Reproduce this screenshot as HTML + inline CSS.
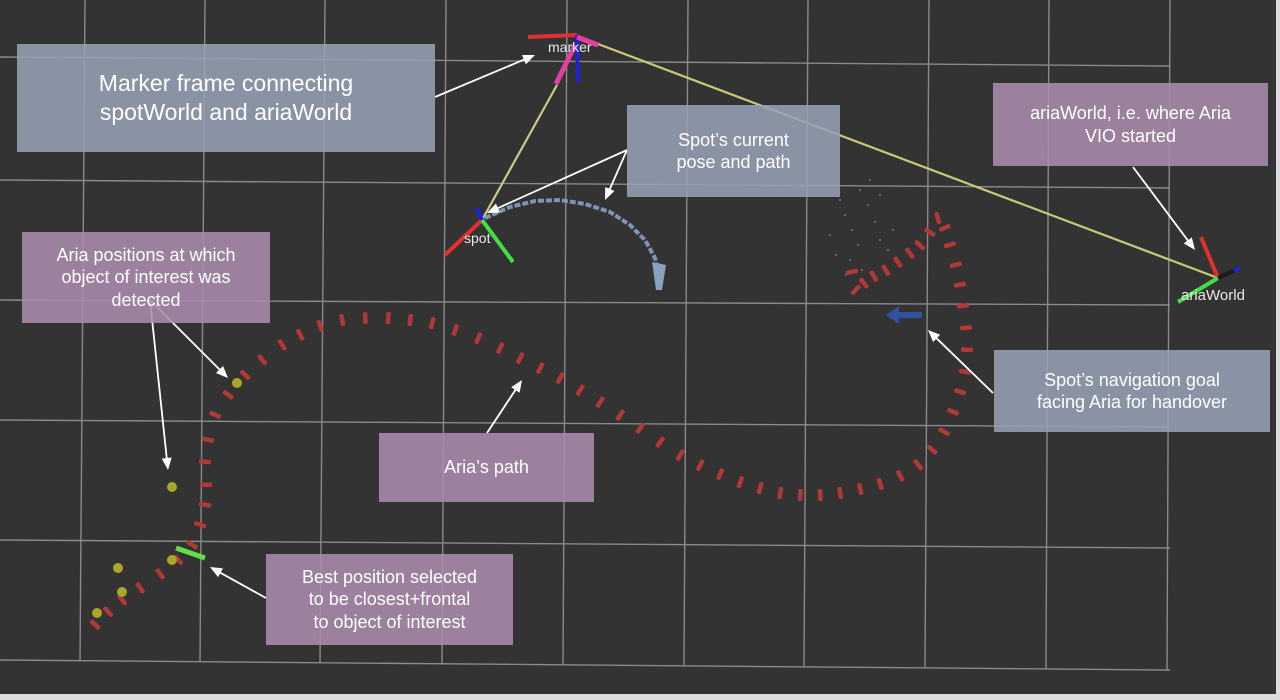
<!DOCTYPE html>
<html><head><meta charset="utf-8"><style>
html,body{margin:0;padding:0;background:#dcdcdc;}
#wrap{position:relative;width:1280px;height:700px;overflow:hidden;background:#dcdcdc;}
svg{position:absolute;left:0;top:0;}
.box{position:absolute;color:#fff;font-family:"Liberation Sans",sans-serif;text-align:center;display:flex;align-items:center;justify-content:center;line-height:1.25;}
.pur{background:rgba(170,140,172,0.88);}
.blu{background:rgba(150,160,180,0.88);}
</style></head><body>
<div id="wrap">
<svg id="scene" width="1280" height="700">
  <rect x="0" y="0" width="1276" height="694" fill="#333333"/>
  <g id="grid" stroke="#8a8a8a" stroke-width="1.4" fill="none"></g>
  <g id="cloud" fill="#777"></g>
  <g>
    <line x1="557" y1="85" x2="482" y2="220" stroke="#c9c98a" stroke-width="2.2"/>
    <line x1="598" y1="44" x2="1218" y2="278" stroke="#c9c97a" stroke-width="2.2"/>
  </g>
  <path id="spotPath" d="" stroke="#7f93b5" stroke-width="4" fill="none" stroke-dasharray="6 2"/>
  <polygon points="652,262 666,265 662,290 656,290" fill="#8aa0c0"/>
  <g id="ariaPath"></g>
  <g id="dets"></g>
  <line x1="176" y1="548" x2="205" y2="558" stroke="#5fe04a" stroke-width="5"/>
  <g>
    <line x1="528" y1="37" x2="577" y2="35" stroke="#e03030" stroke-width="4"/>
    <line x1="577" y1="35" x2="578" y2="82" stroke="#2020e0" stroke-width="4"/>
    <line x1="575" y1="45" x2="556" y2="84" stroke="#e040a0" stroke-width="5"/>
    <line x1="577" y1="37" x2="598" y2="45" stroke="#e040a0" stroke-width="5"/>
    <text x="548" y="52" fill="#e8e8e8" font-family="Liberation Sans, sans-serif" font-size="14">marker</text>
  </g>
  <g>
    <line x1="482" y1="220" x2="445" y2="255" stroke="#e03030" stroke-width="4"/>
    <line x1="482" y1="220" x2="513" y2="262" stroke="#40e040" stroke-width="4"/>
    <line x1="482" y1="220" x2="477" y2="208" stroke="#2020e0" stroke-width="4"/>
    <text x="464" y="243" fill="#e8e8e8" font-family="Liberation Sans, sans-serif" font-size="14">spot</text>
  </g>
  <g>
    <line x1="1218" y1="278" x2="1201" y2="237" stroke="#e03030" stroke-width="4"/>
    <line x1="1218" y1="278" x2="1178" y2="302" stroke="#40e040" stroke-width="4"/>
    <line x1="1218" y1="278" x2="1240" y2="268" stroke="#1a1a1a" stroke-width="4"/>
    <line x1="1234" y1="271" x2="1240" y2="268" stroke="#2020e0" stroke-width="4"/>
    <text x="1181" y="300" fill="#e8e8e8" font-family="Liberation Sans, sans-serif" font-size="15">ariaWorld</text>
  </g>
  <g>
    <line x1="922" y1="315" x2="897" y2="315" stroke="#3050a0" stroke-width="6"/>
    <polygon points="886,315 899,306 899,324" fill="#3050a0"/>
  </g>
  <g id="arrows" stroke="#ffffff" stroke-width="1.8" fill="#ffffff"></g>
</svg>

<div class="box blu" style="left:17px;top:44px;width:418px;height:108px;font-size:23px;">Marker frame connecting<br>spotWorld and ariaWorld</div>
<div class="box blu" style="left:627px;top:105px;width:213px;height:92px;font-size:18px;">Spot’s current<br>pose and path</div>
<div class="box pur" style="left:993px;top:83px;width:275px;height:83px;font-size:18px;">ariaWorld, i.e. where Aria<br>VIO started</div>
<div class="box pur" style="left:22px;top:232px;width:248px;height:91px;font-size:18px;">Aria positions at which<br>object of interest was<br>detected</div>
<div class="box pur" style="left:379px;top:433px;width:215px;height:69px;font-size:18px;">Aria’s path</div>
<div class="box blu" style="left:994px;top:350px;width:276px;height:82px;font-size:18px;">Spot’s navigation goal<br>facing Aria for handover</div>
<div class="box pur" style="left:266px;top:554px;width:247px;height:91px;font-size:18px;">Best position selected<br>to be closest+frontal<br>to object of interest</div>
</div>
<script>
const gridXTop=[85,205,325,446,567,688,808,929,1049,1170];
const gridXBot=[80,200,320,442,563,684,804,925,1046,1167];
const gridYLeft=[57,180,300,420,540,660];
const gridYRight=[66,188,305,427,548,670];
const ariaX=[95,108,122,140,160,178,192,200,205,206,205,208,215,228,245,262,282,300,320,342,365,388,410,432,455,478,500,520,540,560,580,600,620,640,660,680,700,720,740,760,780,800,820,840,860,880,900,918,932,944,953,960,965,967,966,963,960,956,950,945,938,930,920,910,898,886,874,864,856,852];
const ariaY=[625,612,600,588,574,560,545,525,505,485,462,440,415,395,375,360,345,335,326,320,318,318,320,323,330,338,348,358,368,378,390,402,415,428,442,455,465,474,482,488,493,495,495,493,489,484,476,465,450,432,412,392,372,350,328,306,285,265,245,228,218,232,245,253,262,270,276,283,290,272];
const detX=[237,172,118,122,97,172];
const detY=[383,487,568,592,613,560];
const spotPX=[485,510,535,560,585,610,630,645,655,660];
const spotPY=[218,207,201,200,204,212,225,240,258,278];
const NS='http://www.w3.org/2000/svg';
function el(t,a,p){const e=document.createElementNS(NS,t);for(const k in a)e.setAttribute(k,a[k]);p.appendChild(e);return e;}
const grid=document.getElementById('grid');
for(let i=0;i<gridXTop.length;i++){
  const l=el('line',{x1:gridXTop[i],y1:0,x2:gridXBot[i],y2:i==gridXTop.length-1?670:(gridYLeft[5]+(gridYRight[5]-gridYLeft[5])*gridXBot[i]/1170)},grid);
  
  
}
for(let j=0;j<gridYLeft.length;j++){
  const l=el('line',{x1:0,y1:gridYLeft[j],x2:1170,y2:gridYRight[j]},grid);
  
  
}
const ap=document.getElementById('ariaPath');
for(let i=0;i<ariaX.length;i++){
  const a=Math.max(0,i-1),b=Math.min(ariaX.length-1,i+1);
  const ang=Math.atan2(ariaY[b]-ariaY[a],ariaX[b]-ariaX[a])*180/Math.PI;
  const r=el('rect',{x:ariaX[i]-2,y:ariaY[i]-6,width:4.5,height:12,rx:1.5,fill:'#b03838',transform:'rotate('+ang+' '+ariaX[i]+' '+ariaY[i]+')'},ap);
  
  
}
const dg=document.getElementById('dets');
for(let i=0;i<detX.length;i++){
  const c=el('circle',{cx:detX[i],cy:detY[i],r:5,fill:'#a8a828'},dg);
  
  
}
let d='M'+spotPX[0]+' '+spotPY[0];
for(let i=1;i<spotPX.length;i++)d+=' L'+spotPX[i]+' '+spotPY[i];
document.getElementById('spotPath').setAttribute('d',d);
const arrows=[[435,97,535,55],[627,150,487,213],[627,150,605,200],[1133,167,1195,250],[150,300,168,470],[150,300,228,378],[487,433,522,380],[993,393,928,330],[266,598,210,567]];
const ag=document.getElementById('arrows');
arrows.forEach(a=>{
  const [x1,y1,x2,y2]=a;const ang=Math.atan2(y2-y1,x2-x1);
  const l=el('line',{x1:x1,y1:y1,x2:x2-6*Math.cos(ang),y2:y2-6*Math.sin(ang)},ag);
  
  
  const s=12,w=5;
  const bx=x2-s*Math.cos(ang),by=y2-s*Math.sin(ang);
  const p=el('polygon',{points:x2+','+y2+' '+(bx+w*Math.sin(ang))+','+(by-w*Math.cos(ang))+' '+(bx-w*Math.sin(ang))+','+(by+w*Math.cos(ang)),stroke:'none'},ag);
  
  
});
const cg=document.getElementById('cloud');
const cloudX=[840,845,852,860,868,875,880,888,850,862,870,858,846,880,893,900,830,836];
const cloudY=[200,215,230,190,205,222,240,250,260,270,180,245,275,195,230,265,235,255];
for(let i=0;i<cloudX.length;i++){
  const c=el('circle',{cx:cloudX[i],cy:cloudY[i],r:1},cg);
  
  
}
</script>
</body></html>
